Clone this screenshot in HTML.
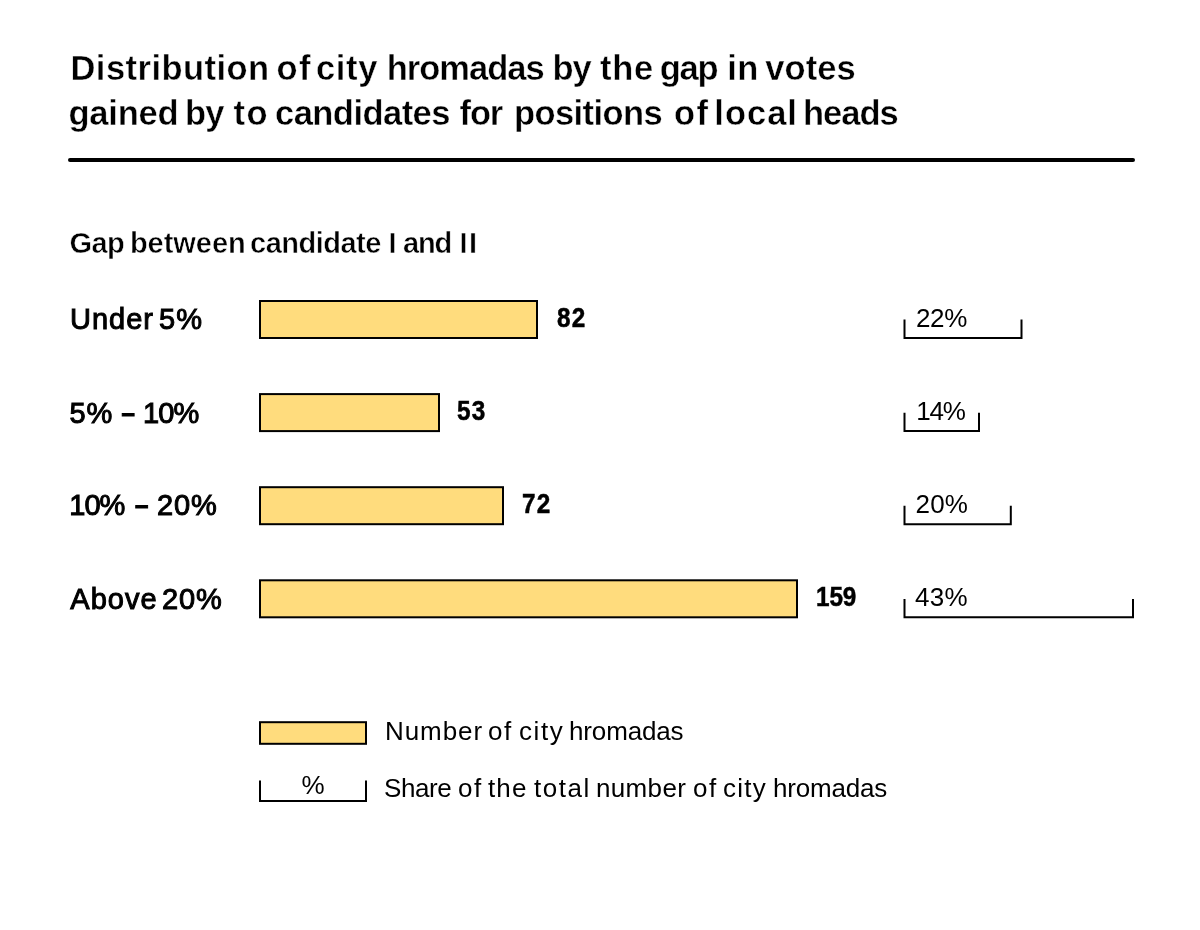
<!DOCTYPE html>
<html lang="en">
<head>
<meta charset="utf-8">
<title>Distribution of city hromadas by the gap in votes</title>
<style>
html,body{margin:0;padding:0;background:#fff}
body{width:1200px;height:930px;position:relative;overflow:hidden;font-family:"Liberation Sans", Arial, sans-serif;color:#000}
h1,h2,p,ul,li{margin:0;padding:0;font-weight:normal;font-size:inherit;list-style:none}
.t{position:absolute;left:0;white-space:nowrap;line-height:1;display:block}
.t span{position:absolute;top:0;transform-origin:0 0}
.rule{position:absolute;left:68px;top:158px;width:1067px;height:4px;border-radius:2px;background:#000}
svg{position:absolute;left:0;top:0}
#l1{top:305.35px;font-size:29px;font-weight:400;-webkit-text-stroke:1.0px #000;}
#v1{top:304.65px;font-size:27px;font-weight:700;-webkit-text-stroke:0.5px #000;}
#p1{top:305.1px;font-size:26px;font-weight:400;}
#l2{top:398.65px;font-size:29px;font-weight:400;-webkit-text-stroke:1.0px #000;}
#v2{top:397.85px;font-size:27px;font-weight:700;-webkit-text-stroke:0.5px #000;}
#p2{top:398.1px;font-size:26px;font-weight:400;}
#l3{top:490.65px;font-size:29px;font-weight:400;-webkit-text-stroke:1.0px #000;}
#v3{top:490.75px;font-size:27px;font-weight:700;-webkit-text-stroke:0.5px #000;}
#p3{top:491.1px;font-size:26px;font-weight:400;}
#l4{top:584.75px;font-size:29px;font-weight:400;-webkit-text-stroke:1.0px #000;}
#v4{top:583.85px;font-size:27px;font-weight:700;-webkit-text-stroke:0.5px #000;}
#p4{top:584.2px;font-size:26px;font-weight:400;}
#t1{top:51.08px;font-size:34.5px;font-weight:700;-webkit-text-stroke:0.4px #fff;}
#t2{top:95.97px;font-size:34.5px;font-weight:700;-webkit-text-stroke:0.4px #fff;}
#sub{top:229.35px;font-size:29px;font-weight:700;-webkit-text-stroke:0.5px #fff;}
#g1{top:718.75px;font-size:25px;font-weight:400;}
#g2{top:776.15px;font-size:25px;font-weight:400;}
#pl{top:771.6px;font-size:26px;font-weight:400;}
</style>
</head>
<body>
<h1><span class="t" id="t1"><span style="left:70.5px;letter-spacing:0.455px">Distribution</span> <span style="left:276.4px;letter-spacing:1.5px">of</span> <span style="left:316.0px;letter-spacing:0.667px">city</span> <span style="left:386.8px;letter-spacing:-1.014px">hromadas</span> <span style="left:552.55px;letter-spacing:-1.2px">by</span> <span style="left:600.1px;letter-spacing:0.7px">the</span> <span style="left:659.75px;letter-spacing:-1.2px">gap</span> <span style="left:727.2px;letter-spacing:0.6px">in</span> <span style="left:765.3px;letter-spacing:0.075px">votes</span></span> <span class="t" id="t2"><span style="left:68.5px;letter-spacing:-0.2px">gained</span> <span style="left:184.9px;letter-spacing:-0.6px">by</span> <span style="left:233.4px;letter-spacing:1.5px">to</span> <span style="left:275.0px;letter-spacing:-0.533px">candidates</span> <span style="left:459.6px;letter-spacing:-1.2px">for</span> <span style="left:514.0px;letter-spacing:-0.588px">positions</span> <span style="left:673.95px;letter-spacing:1.5px">of</span> <span style="left:714.3px;letter-spacing:1.0px">local</span> <span style="left:803.0px;letter-spacing:-0.975px">heads</span></span></h1>
<div class="rule"></div>
<h2 class="t" id="sub"><span style="left:69.4px;letter-spacing:-0.55px">Gap</span> <span style="left:129.9px;letter-spacing:-0.033px">between</span> <span style="left:250.1px;letter-spacing:-0.512px">candidate</span> <span style="left:388.4px">I</span> <span style="left:403.0px;letter-spacing:-1.2px">and</span> <span style="left:459.5px;letter-spacing:1.5px">II</span></h2>
<svg width="1200" height="930" viewBox="0 0 1200 930" fill="none" stroke="#000" stroke-width="2"><path d="M904.5 319.6V338H1021.5V319.6 M904.5 412.7V431.1H979V412.7 M904.5 505.8V524.2H1010.8V505.8 M904.5 598.9V617.3H1133V598.9 M260 780.5V801H366V780.5"/><g fill="#ffdc7d"><rect x="260" y="301" width="277" height="37"/><rect x="260" y="394.1" width="179" height="37"/><rect x="260" y="487.2" width="243" height="37"/><rect x="260" y="580.3" width="537" height="37"/><rect x="260" y="722.2" width="106" height="21.6"/></g></svg>
<ul>
<li><span class="t" id="l1"><span style="left:70.1px;letter-spacing:0.975px">Under</span> <span style="left:159.0px;letter-spacing:1.0px">5%</span></span><span class="t" id="v1"><span style="left:557.33px;letter-spacing:1.5px;transform:scaleX(0.9)">82</span></span><span class="t" id="p1"><span style="left:915.9px;letter-spacing:-0.3px">22%</span></span></li>
<li><span class="t" id="l2"><span style="left:69.5px;letter-spacing:0.8px">5%</span> <span style="left:121.5px;top:2.75px;font-size:24px;font-weight:700;">–</span> <span style="left:143.0px;letter-spacing:-0.9px">10%</span></span><span class="t" id="v2"><span style="left:457.0px;letter-spacing:1.444px;transform:scaleX(0.9)">53</span></span><span class="t" id="p2"><span style="left:916.2px;letter-spacing:-1.2px">14%</span></span></li>
<li><span class="t" id="l3"><span style="left:69.3px;letter-spacing:-1.0px">10%</span> <span style="left:135.05px;top:2.75px;font-size:24px;font-weight:700;">–</span> <span style="left:157.0px;letter-spacing:0.85px">20%</span></span><span class="t" id="v3"><span style="left:521.62px;letter-spacing:1.5px;transform:scaleX(0.9)">72</span></span><span class="t" id="p3"><span style="left:915.5px;letter-spacing:0.2px">20%</span></span></li>
<li><span class="t" id="l4"><span style="left:70.3px;letter-spacing:1.0px">Above</span> <span style="left:162.0px;letter-spacing:0.85px">20%</span></span><span class="t" id="v4"><span style="left:816.0px;letter-spacing:-0.111px;transform:scaleX(0.9)">159</span></span><span class="t" id="p4"><span style="left:915.0px;letter-spacing:0.25px">43%</span></span></li>
</ul>
<ul>
<li><span class="t" id="g1"><span style="left:384.7px;letter-spacing:0.885px;transform:scaleX(1.04)">Number</span> <span style="left:488.12px;letter-spacing:1.5px;transform:scaleX(1.04)">of</span> <span style="left:519.01px;letter-spacing:1.5px;transform:scaleX(1.04)">city</span> <span style="left:568.7px;letter-spacing:-0.137px;transform:scaleX(1.04)">hromadas</span></span></li>
<li><span class="t" id="pl"><span style="left:301.4px">%</span></span><span class="t" id="g2"><span style="left:384.1px;letter-spacing:-0.409px;transform:scaleX(1.04)">Share</span> <span style="left:457.82px;letter-spacing:1.5px;transform:scaleX(1.04)">of</span> <span style="left:488.3px;letter-spacing:1.106px;transform:scaleX(1.04)">the</span> <span style="left:534.33px;letter-spacing:1.5px;transform:scaleX(1.04)">total</span> <span style="left:595.8px;letter-spacing:0.327px;transform:scaleX(1.04)">number</span> <span style="left:693.02px;letter-spacing:1.5px;transform:scaleX(1.04)">of</span> <span style="left:723.0px;letter-spacing:1.186px;transform:scaleX(1.04)">city</span> <span style="left:773.4px;letter-spacing:-0.192px;transform:scaleX(1.04)">hromadas</span></span></li>
</ul>
</body>
</html>
